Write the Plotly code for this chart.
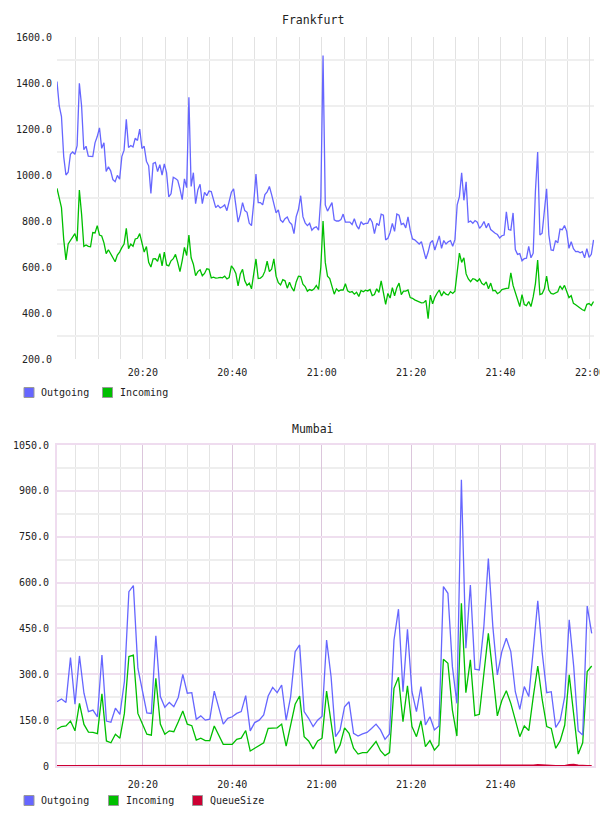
import pandas as pd
import plotly.graph_objects as go

DAY = "2024-05-14"

# Frankfurt: one sample every 30 seconds from 20:00:48
frankfurt_outgoing = [
    1406, 1300, 1254, 1080, 1000, 1012, 1090, 1100, 1090, 1128,
    1399, 1300, 1110, 1125, 1082, 1082, 1080, 1140, 1167, 1205,
    1116, 1140, 1015, 1036, 1018, 980, 971, 998, 982, 1080,
    1108, 1242, 1120, 1128, 1122, 1160, 1150, 1200, 1115, 1125,
    1060, 1040, 920, 1050, 1055, 1015, 1045, 1000, 1048, 1010,
    905, 918, 990, 985, 977, 940, 893, 983, 945, 1338,
    950, 1010, 875, 935, 960, 875, 925, 910, 930, 928,
    895, 858, 868, 857, 862, 870, 845, 884, 925, 940,
    870, 795, 830, 880, 845, 838, 790, 780, 880, 1004,
    880, 880, 870, 915, 926, 950, 915, 878, 835, 848,
    804, 795, 810, 817, 795, 785, 745, 819, 850, 910,
    819, 792, 780, 790, 760, 770, 775, 760, 900, 1520,
    870, 843, 862, 880, 805, 800, 800, 806, 830, 795,
    795, 795, 785, 810, 780, 765, 797, 785, 790, 790,
    812, 795, 745, 790, 780, 830, 825, 718, 725, 750,
    790, 755, 830, 825, 785, 790, 770, 818, 760, 722,
    718, 710, 700, 710, 676, 635, 665, 705, 715, 674,
    705, 735, 681, 715, 700, 710, 715, 690, 720, 870,
    906, 1010, 890, 970, 795, 800, 790, 802, 795, 768,
    780, 798, 770, 790, 763, 754, 747, 741, 726, 736,
    739, 840, 763, 760, 835, 676, 655, 658, 627, 636,
    638, 690, 640, 660, 930, 1100, 739, 747, 860, 940,
    740, 674, 672, 715, 705, 765, 762, 780, 755, 681,
    710, 680, 667, 668, 662, 667, 640, 680, 642, 655,
    718,
]
frankfurt_incoming = [
    942, 906, 858, 720, 631, 700, 715, 732, 745, 712,
    935, 830, 690, 696, 690, 688, 750, 748, 780, 739,
    735, 705, 658, 675, 658, 640, 623, 652, 665, 684,
    700, 768, 680, 700, 690, 722, 725, 745, 700, 665,
    689, 620, 600, 635, 636, 625, 658, 605, 665, 609,
    605, 627, 636, 655, 620, 580, 628, 685, 650, 739,
    640, 612, 562, 580, 588, 562, 572, 592, 590, 553,
    556, 552, 553, 555, 553, 560, 548, 554, 605, 592,
    572, 518, 570, 590, 540, 520, 530, 505, 570, 635,
    550, 552, 560, 582, 625, 580, 590, 635, 560, 532,
    522, 545, 540, 508, 534, 510, 495, 535, 560, 558,
    525, 515, 495, 502, 498, 505, 520, 502, 600, 800,
    620, 560, 550, 512, 482, 505, 495, 500, 500, 527,
    496, 490, 493, 482, 490, 472, 498, 492, 499, 496,
    502, 476, 480, 505, 490, 540, 495, 437, 485, 465,
    510, 475, 510, 530, 480, 495, 495, 500, 467, 464,
    457, 453, 450, 444, 445, 455, 375, 478, 440, 468,
    486, 500, 474, 492, 482, 478, 493, 485, 495, 586,
    660, 620, 640, 570, 548, 536, 549, 546, 538, 548,
    529, 522, 535, 505, 530, 497, 498, 484, 490, 502,
    506, 507, 508, 575, 520, 490, 460, 428, 480, 437,
    432, 450, 428, 470, 528, 630, 480, 484, 505, 560,
    500, 485, 482, 486, 492, 518, 503, 520, 493, 467,
    475, 442, 436, 428, 424, 414, 410, 438, 441, 433,
    450,
]

# Mumbai: about one sample a minute from 20:00:48
mumbai_outgoing = [
    210, 219, 208, 355, 202, 360, 238, 178, 183, 161,
    363, 147, 143, 189, 169, 276, 570, 590, 320, 243,
    174, 172, 426, 227, 192, 208, 194, 225, 300, 238,
    240, 153, 164, 150, 153, 245, 194, 137, 156, 161,
    172, 178, 230, 115, 142, 150, 167, 229, 257, 240,
    265, 150, 227, 374, 396, 178, 156, 129, 150, 163,
    412, 292, 96, 118, 194, 210, 107, 98, 105, 110,
    123, 137, 118, 87, 105, 412, 513, 243, 447, 243,
    178, 260, 134, 161, 118, 131, 587, 565, 325, 205,
    936, 385, 592, 317, 314, 456, 679, 456, 298, 374,
    418, 374, 243, 185, 260, 227, 380, 540, 369, 240,
    243, 126, 150, 227, 478, 325, 115, 101, 523, 434,
]
mumbai_incoming = [
    120, 129, 131, 147, 115, 205, 136, 111, 110, 106,
    236, 82, 76, 104, 91, 172, 358, 363, 172, 137,
    104, 101, 287, 137, 104, 115, 112, 145, 180, 137,
    132, 85, 91, 83, 83, 131, 101, 71, 71, 71,
    87, 91, 116, 49, 58, 67, 76, 123, 125, 125,
    137, 65, 134, 202, 229, 96, 82, 56, 82, 91,
    245, 150, 41, 69, 125, 107, 58, 39, 44, 44,
    63, 80, 50, 34, 44, 254, 290, 145, 262, 129,
    96, 148, 63, 83, 52, 69, 349, 336, 183, 98,
    532, 240, 347, 165, 169, 301, 434, 301, 164, 214,
    246, 205, 148, 96, 131, 116, 227, 327, 216, 129,
    123, 58, 83, 134, 298, 167, 39, 76, 309, 327,
]
mumbai_queuesize = [0] * 106 + [2, 3, 2, 0, 0, 0, 0, 0, 3, 4, 2, 0, 0, 0]

frankfurt_yticks = [200, 400, 600, 800, 1000, 1200, 1400, 1600]
frankfurt_ygrid = [300, 500, 700, 900, 1100, 1300, 1500]
mumbai_yticks = [0, 150, 300, 450, 600, 750, 900, 1050]
frankfurt_xlabels = ["20:20", "20:40", "21:00", "21:20", "21:40", "22:00"]
mumbai_xlabels = ["20:20", "20:40", "21:00", "21:20", "21:40"]

OUT_COLOR = "#6666ff"
IN_COLOR = "#00bf00"
QUEUE_COLOR = "#cc0033"
FONT = "DejaVu Sans Mono"

frankfurt_time = pd.date_range(f"{DAY} 20:00:48", periods=len(frankfurt_outgoing), freq="30s")
mumbai_time = pd.date_range(f"{DAY} 20:00:48", periods=len(mumbai_outgoing), freq="60300ms")

# the page body keeps its default 8px margin, so the figure is 16px smaller
PAGE_W, PAGE_H, PAD = 608, 816, 8
W, H = PAGE_W - 2 * PAD, PAGE_H - 2 * PAD


def at_x(x):
    return (x - PAD) / W


def at_y(y):
    return (PAGE_H - PAD - y) / H


fig = go.Figure()

# Frankfurt lines
fig.add_trace(go.Scatter(x=frankfurt_time, y=frankfurt_outgoing, mode="lines", name="Outgoing",
                         line=dict(color=OUT_COLOR, width=1.3), xaxis="x", yaxis="y"))
fig.add_trace(go.Scatter(x=frankfurt_time, y=frankfurt_incoming, mode="lines", name="Incoming",
                         line=dict(color=IN_COLOR, width=1.3), xaxis="x", yaxis="y"))

# Mumbai lines
fig.add_trace(go.Scatter(x=mumbai_time, y=mumbai_queuesize, mode="lines", name="QueueSize",
                         line=dict(color=QUEUE_COLOR, width=2), xaxis="x2", yaxis="y2"))
fig.add_trace(go.Scatter(x=mumbai_time, y=mumbai_incoming, mode="lines", name="Incoming",
                         line=dict(color=IN_COLOR, width=1.3), xaxis="x2", yaxis="y2"))
fig.add_trace(go.Scatter(x=mumbai_time, y=mumbai_outgoing, mode="lines", name="Outgoing",
                         line=dict(color=OUT_COLOR, width=1.3), xaxis="x2", yaxis="y2"))

# flot-style legends under each chart: colour square + label
legend_rows = [
    (392.5, [("Outgoing", OUT_COLOR, 24), ("Incoming", IN_COLOR, 102.5)]),
    (800.5, [("Outgoing", OUT_COLOR, 24), ("Incoming", IN_COLOR, 108.5),
             ("QueueSize", QUEUE_COLOR, 192.5)]),
]
for yc, items in legend_rows:
    for name, color, x0 in items:
        fig.add_shape(type="rect", xref="paper", yref="paper",
                      x0=at_x(x0), x1=at_x(x0 + 10), y0=at_y(yc + 5), y1=at_y(yc - 5),
                      fillcolor=color, line=dict(color="#999999", width=1))
        fig.add_annotation(text=name, x=at_x(x0 + 15), y=at_y(yc), xref="paper", yref="paper",
                           xanchor="left", yanchor="middle", showarrow=False,
                           font=dict(family=FONT, size=10, color="#222222"))

tickfont = dict(family=FONT, size=10, color="#222222")
common = dict(zeroline=False, ticks="", tickfont=tickfont, automargin=False)

fig.update_layout(
    width=W, height=H,
    margin=dict(l=0, r=0, t=0, b=0),
    paper_bgcolor="white", plot_bgcolor="white",
    font=dict(family=FONT, size=10, color="#222222"),
    showlegend=False,
    xaxis=dict(
        domain=[at_x(57), at_x(594)], anchor="y", type="date",
        range=[f"{DAY} 20:00:48", f"{DAY} 22:00:54"],
        tickvals=[f"{DAY} {t}" for t in frankfurt_xlabels], ticktext=frankfurt_xlabels,
        ticklabeloverflow="allow", ticklabelstandoff=6,
        showgrid=True, gridcolor="#e2e2e2", gridwidth=1,
        minor=dict(dtick=300000, tick0=f"{DAY} 20:00", showgrid=True,
                   gridcolor="#e2e2e2", gridwidth=1),
        showline=False, **common,
    ),
    yaxis=dict(
        domain=[at_y(359), at_y(37)], anchor="x", range=[200, 1600],
        tickvals=frankfurt_yticks, ticktext=[f"{v:.1f}" for v in frankfurt_yticks],
        ticklabelstandoff=4,
        showgrid=False,
        minor=dict(tickvals=frankfurt_ygrid, showgrid=True, gridcolor="#efefef", gridwidth=2),
        showline=False, **common,
    ),
    xaxis2=dict(
        domain=[at_x(57), at_x(593.5)], anchor="y2", type="date",
        range=[f"{DAY} 20:00:48", f"{DAY} 22:00:48"],
        tickvals=[f"{DAY} {t}" for t in mumbai_xlabels], ticktext=mumbai_xlabels,
        ticklabelstandoff=8,
        showgrid=True, gridcolor="#dcc6dc", gridwidth=1,
        minor=dict(dtick=300000, tick0=f"{DAY} 20:00", showgrid=True,
                   gridcolor="#e4e4e4", gridwidth=1),
        showline=True, mirror=True, linecolor="#efdcef", linewidth=2,
        **common,
    ),
    yaxis2=dict(
        domain=[at_y(766), at_y(445)], anchor="x2", range=[0, 1050],
        tickvals=mumbai_yticks,
        ticktext=["0"] + [f"{v:.1f}" for v in mumbai_yticks[1:]],
        ticklabelstandoff=4,
        showgrid=True, gridcolor="#efdfef", gridwidth=2,
        minor=dict(dtick=150, tick0=75, showgrid=True, gridcolor="#eeeeee", gridwidth=2),
        showline=True, mirror=True, linecolor="#efdcef", linewidth=2,
        **common,
    ),
)

fig.add_annotation(text="Frankfurt", x=at_x(313), y=at_y(20), xref="paper", yref="paper",
                   xanchor="center", yanchor="middle", showarrow=False,
                   font=dict(family=FONT, size=11.5, color="#222222"))
fig.add_annotation(text="Mumbai", x=at_x(313), y=at_y(429), xref="paper", yref="paper",
                   xanchor="center", yanchor="middle", showarrow=False,
                   font=dict(family=FONT, size=11.5, color="#222222"))

fig.write_html("out.html")
